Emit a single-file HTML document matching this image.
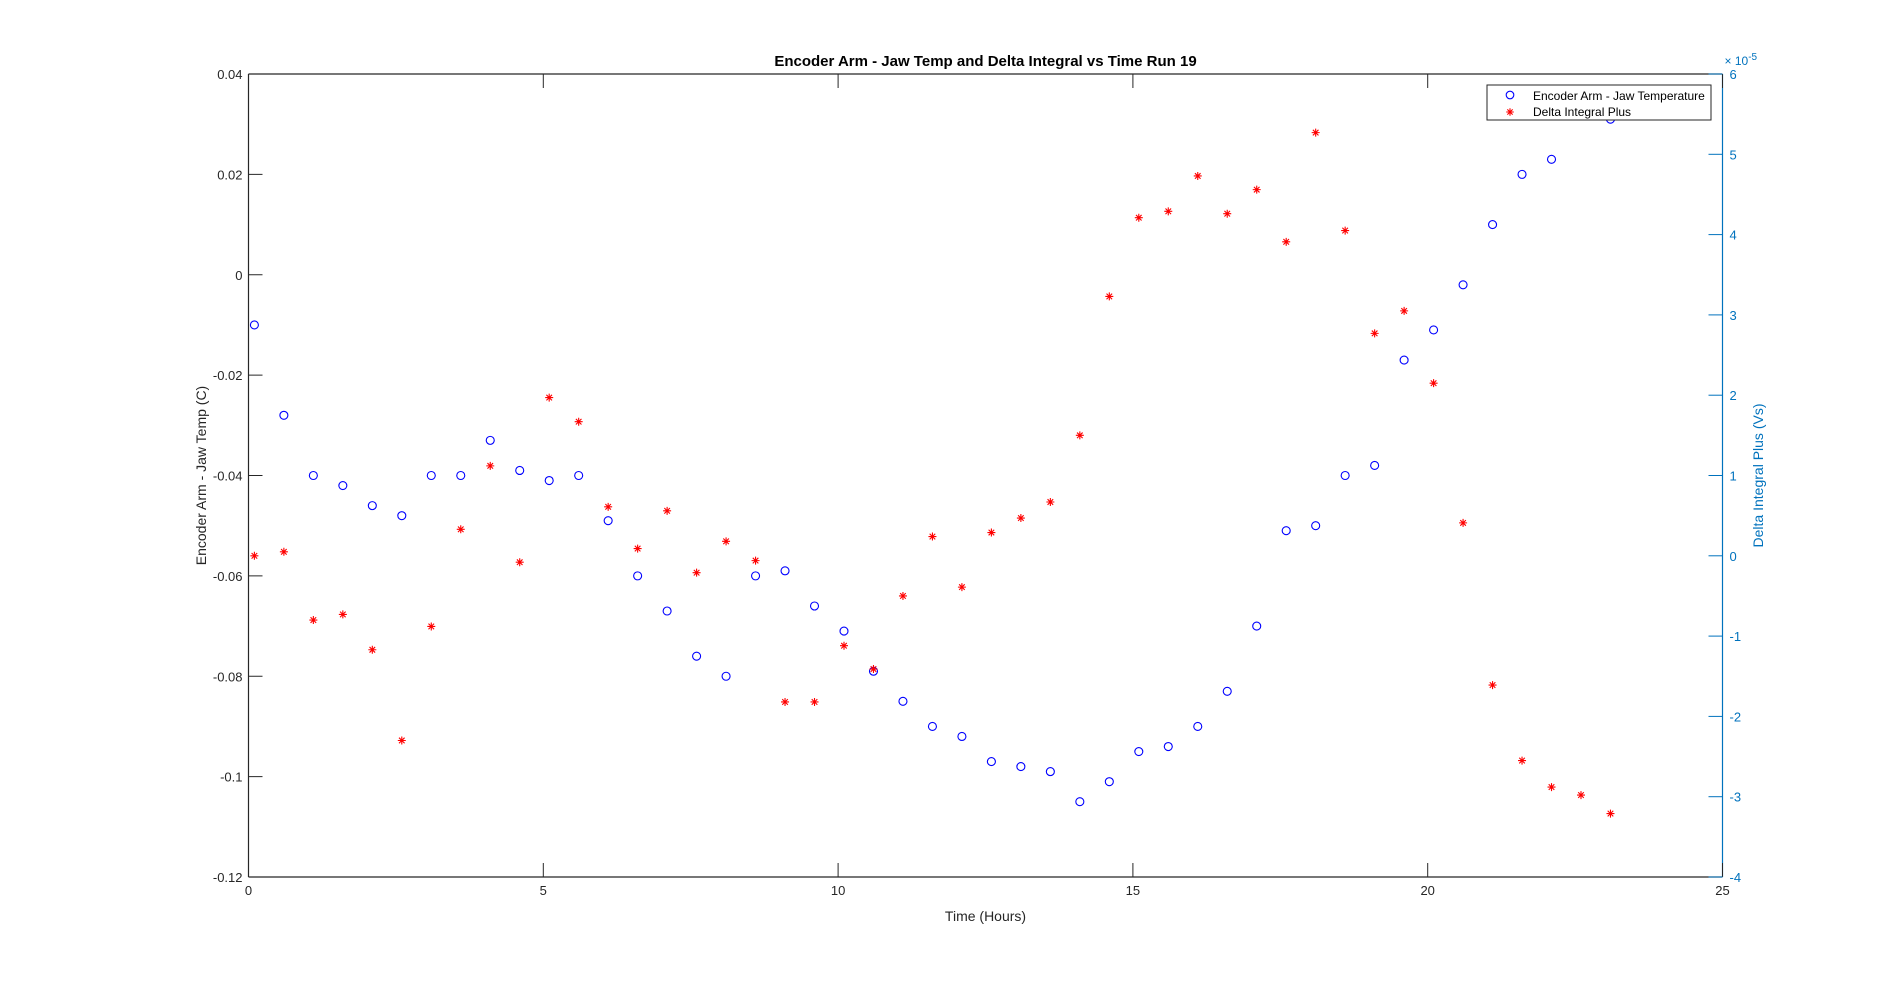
<!DOCTYPE html>
<html><head><meta charset="utf-8"><style>
html,body{margin:0;padding:0;background:#fff;}
svg{display:block;font-family:"Liberation Sans",Arial,sans-serif;}
</style></head><body>
<svg id="s" width="1904" height="987" viewBox="0 0 1904 987" xmlns="http://www.w3.org/2000/svg">
<rect width="1904" height="987" fill="#fff"/>
<g id="plot"></g>
</svg>
<script>
const L=248.5,R=1722.5,T=74,B=877;
const X=h=>L+(R-L)*h/25;
const YL=v=>B-(B-T)*(v+0.12)/0.16;
const YR=v=>B-(B-T)*(v+4)/10;
let s='';
s+=`<line x1="${L}" y1="${T}" x2="${R}" y2="${T}" stroke="#262626" stroke-width="1.2"/>`;
s+=`<line x1="${L}" y1="${B}" x2="${R}" y2="${B}" stroke="#262626" stroke-width="1.2"/>`;
s+=`<line x1="${L}" y1="${T}" x2="${L}" y2="${B}" stroke="#262626" stroke-width="1.2"/>`;
s+=`<line x1="${R}" y1="${T}" x2="${R}" y2="${B}" stroke="#0072BD" stroke-width="1.2"/>`;
for(let h=0;h<=25;h+=5){const x=X(h);
 s+=`<line x1="${x}" y1="${B}" x2="${x}" y2="${B-14}" stroke="#262626"/><line x1="${x}" y1="${T}" x2="${x}" y2="${T+14}" stroke="#262626"/>`;
 s+=`<text x="${x}" y="${B+18}" font-size="13" text-anchor="middle" fill="#262626">${h}</text>`;}
const lt=[0.04,0.02,0,-0.02,-0.04,-0.06,-0.08,-0.1,-0.12];
for(const v of lt){const y=YL(v);
 s+=`<line x1="${L}" y1="${y}" x2="${L+14}" y2="${y}" stroke="#262626"/>`;
 let t=v===0?'0':(v===-0.1?'-0.1':v.toFixed(2));
 s+=`<text x="${L-6}" y="${y+5}" font-size="13" text-anchor="end" fill="#262626">${t}</text>`;}
for(let v=-4;v<=6;v++){const y=YR(v);
 s+=`<line x1="${R}" y1="${y}" x2="${R-14}" y2="${y}" stroke="#0072BD"/>`;
 s+=`<text x="${R+7}" y="${y+5}" font-size="13" fill="#0072BD">${v}</text>`;}
s+=`<text x="${R+2}" y="65" font-size="12" fill="#0072BD">× 10<tspan dy="-5" font-size="10">-5</tspan></text>`;
s+=`<text x="${(L+R)/2}" y="66" font-size="15" font-weight="bold" text-anchor="middle" fill="#000">Encoder Arm - Jaw Temp and Delta Integral vs Time Run 19</text>`;
s+=`<text x="${(L+R)/2}" y="921" font-size="14" text-anchor="middle" fill="#262626">Time (Hours)</text>`;
s+=`<text transform="translate(206,${(T+B)/2}) rotate(-90)" font-size="14" text-anchor="middle" fill="#262626">Encoder Arm - Jaw Temp (C)</text>`;
s+=`<text transform="translate(1763,${(T+B)/2}) rotate(-90)" font-size="14" text-anchor="middle" fill="#0072BD">Delta Integral Plus (Vs)</text>`;
const blue={0.1:-0.010,0.6:-0.028,1.1:-0.040,1.6:-0.042,2.1:-0.046,2.6:-0.048,3.1:-0.040,3.6:-0.040,4.1:-0.033,4.6:-0.039,5.1:-0.041,5.6:-0.040,6.1:-0.049,6.6:-0.060,7.1:-0.067,7.6:-0.076,8.1:-0.080,8.6:-0.060,9.1:-0.059,9.6:-0.066,10.1:-0.071,10.6:-0.079,11.1:-0.085,11.6:-0.090,12.1:-0.092,12.6:-0.097,13.1:-0.098,13.6:-0.099,14.1:-0.105,14.6:-0.101,15.1:-0.095,15.6:-0.094,16.1:-0.090,16.6:-0.083,17.1:-0.070,17.6:-0.051,18.1:-0.050,18.6:-0.040,19.1:-0.038,19.6:-0.017,20.1:-0.011,20.6:-0.002,21.1:0.010,21.6:0.020,22.1:0.023,23.1:0.031};
const red=[0,0.05,-0.8,-0.73,-1.17,-2.3,-0.88,0.33,1.12,-0.08,1.97,1.67,0.61,0.09,0.56,-0.21,0.18,-0.06,-1.82,-1.82,-1.12,-1.41,-0.5,0.24,-0.39,0.29,0.47,0.67,1.5,3.23,4.21,4.29,4.73,4.26,4.56,3.91,5.27,4.05,2.77,3.05,2.15,0.41,-1.61,-2.55,-2.88,-2.98,-3.21];
for(const k in blue){s+=`<circle cx="${X(+k)}" cy="${YL(blue[k])}" r="4" fill="none" stroke="#0000ff" stroke-width="1.1"/>`;}
const star=(x,y,r)=>`<path d="M${x-r} ${y}H${x+r}M${x} ${y-r}V${y+r}M${x-r*.7} ${y-r*.7}L${x+r*.7} ${y+r*.7}M${x-r*.7} ${y+r*.7}L${x+r*.7} ${y-r*.7}" stroke="#ff0000" stroke-width="1.1" fill="none"/>`;
red.forEach((v,i)=>{s+=star(X(0.1+0.5*i),YR(v),4);});
s+=`<rect x="1487" y="85" width="224" height="35" fill="#fff" stroke="#262626" stroke-width="1"/>`;
s+=`<circle cx="1510" cy="95" r="3.8" fill="none" stroke="#0000ff" stroke-width="1.1"/>`;
s+=`<text x="1533" y="100" font-size="12" fill="#000">Encoder Arm - Jaw Temperature</text>`;
s+=star(1510,112,3.8);
s+=`<text x="1533" y="116" font-size="12" fill="#000">Delta Integral Plus</text>`;
document.getElementById('plot').innerHTML=s;
</script>
</body></html>
